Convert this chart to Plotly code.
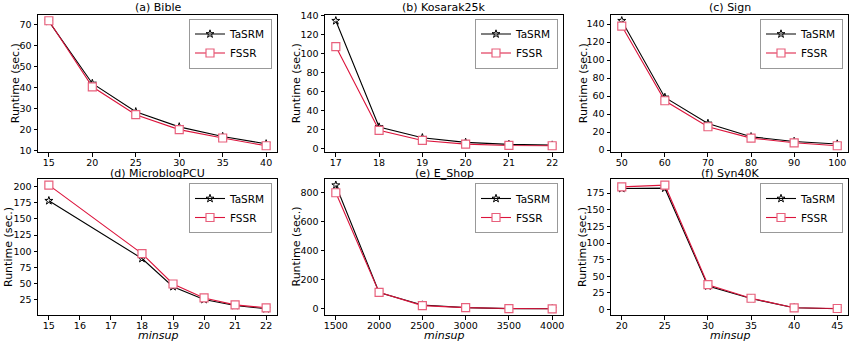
import plotly.graph_objects as go
from plotly.subplots import make_subplots

# data
titles = ["(a) Bible", "(b) Kosarak25k", "(c) Sign", "(d) MicroblogPCU", "(e) E_Shop", "(f) Syn40K"]

bible_x = [15, 20, 25, 30, 35, 40]
bible_tasrm = [71.5, 41.9, 28.4, 21.2, 16.6, 13.1]
bible_fssr = [71.8, 40.3, 27.0, 19.9, 15.9, 12.2]

kosarak_x = [17, 18, 19, 20, 21, 22]
kosarak_tasrm = [134.7, 22.9, 11.6, 6.7, 4.6, 3.9]
kosarak_fssr = [107.5, 19.4, 8.8, 4.9, 3.5, 3.2]

sign_x = [50, 60, 70, 80, 90, 100]
sign_tasrm = [143.7, 58.5, 29.6, 14.8, 9.6, 6.7]
sign_fssr = [137.8, 54.8, 25.9, 13.3, 8.1, 4.8]

micro_x = [15, 18, 19, 20, 21, 22]
micro_tasrm = [178.0, 88.8, 45.4, 25.5, 16.3, 11.2]
micro_fssr = [202.0, 96.4, 49.5, 28.0, 17.3, 12.8]

eshop_x = [1500, 2000, 2500, 3000, 3500, 4000]
eshop_tasrm = [852, 113.6, 27, 9, 2.3, 1]
eshop_fssr = [800, 114, 23, 9, 3, 1]

syn_x = [20, 25, 30, 35, 40, 45]
syn_tasrm = [182.0, 182.5, 35.3, 16.4, 2.5, 1.0]
syn_fssr = [184.5, 187.0, 37.3, 16.9, 2.5, 1.5]

panels = [
    (bible_x, bible_tasrm, bible_fssr, 5, 10),
    (kosarak_x, kosarak_tasrm, kosarak_fssr, 1, 20),
    (sign_x, sign_tasrm, sign_fssr, 10, 20),
    (micro_x, micro_tasrm, micro_fssr, 1, 25),
    (eshop_x, eshop_tasrm, eshop_fssr, 500, 200),
    (syn_x, syn_tasrm, syn_fssr, 5, 25),
]

W, H = 857, 344
col_px = [(38, 277), (325, 563), (611, 848)]
row_px = [(14.5, 152), (179, 315)]
title_px = [7, 173]
ytitle_px = [15, 296, 583, 8, 295.5, 582]

fig = make_subplots(rows=2, cols=3)
FONT = "DejaVu Sans"
lab_font = dict(family=FONT, size=11, color="black")

for i, (xs, ta, fs, dx, dy) in enumerate(panels):
    r, c = i // 3, i % 3
    leg = "legend" if i == 0 else "legend%d" % (i + 1)
    fig.add_trace(go.Scatter(
        x=xs, y=ta, name="TaSRM", mode="lines+markers", legend=leg,
        line=dict(color="black", width=1.1),
        marker=dict(symbol="star-open", size=6, color="black", line=dict(width=1)),
    ), row=r + 1, col=c + 1)
    fig.add_trace(go.Scatter(
        x=xs, y=fs, name="FSSR", mode="lines+markers", legend=leg,
        line=dict(color="crimson", width=1.1),
        marker=dict(symbol="square", size=8, color="white", line=dict(width=1.2, color="#e8607c")),
    ), row=r + 1, col=c + 1)

    # matplotlib-style 5% margins
    xmin, xmax = min(xs), max(xs)
    ymin, ymax = min(ta + fs), max(ta + fs)
    xm = (xmax - xmin) * 0.05
    ym = (ymax - ymin) * 0.05
    x0, x1 = col_px[c]
    y0, y1 = row_px[r]
    axis_common = dict(showline=True, mirror=True, linecolor="black", linewidth=1,
                       ticks="outside", ticklen=3.5, tickcolor="black", showgrid=False,
                       zeroline=False, automargin=False,
                       tickfont=dict(family=FONT, size=9.5, color="black"))
    fig.update_xaxes(range=[xmin - xm, xmax + xm], dtick=dx, tick0=0, ticklabelstandoff=-2,
                     domain=[x0 / W, x1 / W], row=r + 1, col=c + 1, **axis_common)
    fig.update_yaxes(range=[ymin - ym, ymax + ym], dtick=dy, tick0=0,
                     domain=[1 - y1 / H, 1 - y0 / H], row=r + 1, col=c + 1, **axis_common)

    # panel title, axis titles
    fig.add_annotation(text=titles[i], x=(x0 + x1) / 2 / W, y=1 - title_px[r] / H,
                       xref="paper", yref="paper", xanchor="center", yanchor="middle",
                       showarrow=False, borderpad=0, font=lab_font)
    fig.add_annotation(text="Runtime (sec.)", textangle=-90, x=ytitle_px[i] / W,
                       y=1 - (y0 + y1) / 2 / H, xref="paper", yref="paper",
                       xanchor="center", yanchor="middle", showarrow=False, font=lab_font)
    if r == 1:
        fig.add_annotation(text="<i>minsup</i>", x=(x0 + x1) / 2 / W, y=1 - 335.5 / H,
                           xref="paper", yref="paper", xanchor="center", yanchor="middle",
                           showarrow=False, borderpad=0, font=lab_font)

    fig.update_layout(**{leg: dict(
        x=(x1 - 5) / W, y=1 - (y0 + 4) / H, xanchor="right", yanchor="top",
        bgcolor="white", bordercolor="#999999", borderwidth=1,
        font=dict(family=FONT, size=10.5, color="black"),
        tracegroupgap=0, itemwidth=30,
    )})

fig.update_layout(
    width=W, height=H, margin=dict(l=0, r=0, t=0, b=0, autoexpand=False),
    plot_bgcolor="white", paper_bgcolor="white",
    font=dict(family=FONT, color="black"),
)

# drop the browser's default body margin so the figure sits at the page corner
fig.write_html("out.html", config={"displayModeBar": False},
               post_script="document.body.style.margin='0';")
